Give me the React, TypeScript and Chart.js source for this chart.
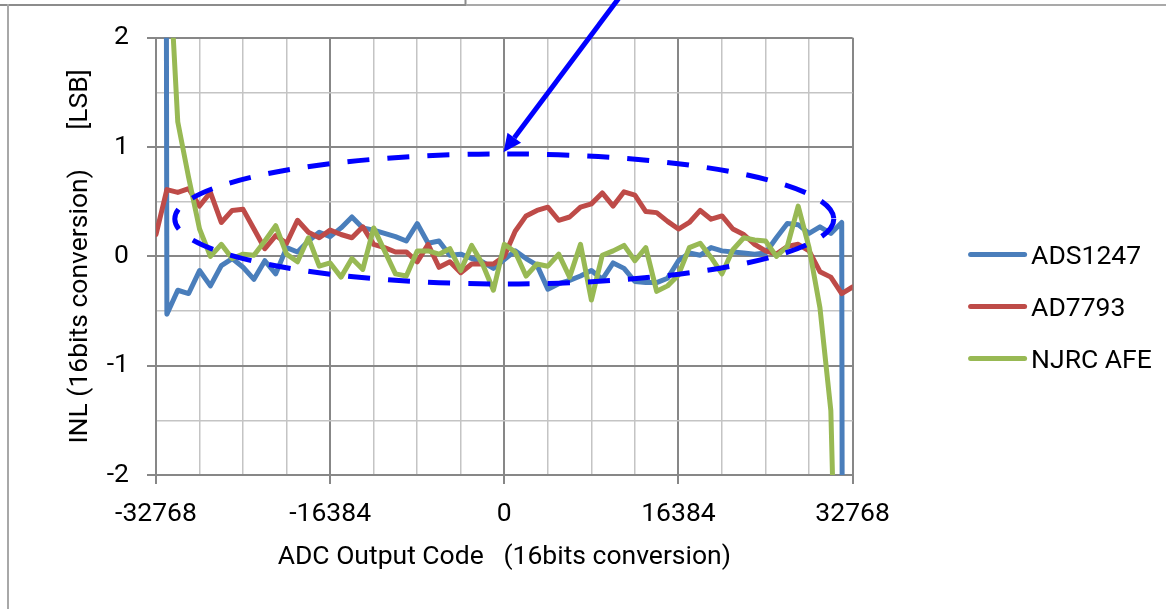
import React, { useEffect, useRef } from 'react';
import { Chart, registerables } from 'chart.js';

Chart.register(...registerables);

// ---- data ----
const CODES = [
  -32768, -31744, -30720, -29696, -28672, -27648, -26624, -25600, -24576, -23552,
  -22528, -21504, -20480, -19456, -18432, -17408, -16384, -15360, -14336, -13312,
  -12288, -11264, -10240, -9216, -8192, -7168, -6144, -5120, -4096, -3072,
  -2048, -1024, 0, 1024, 2048, 3072, 4096, 5120, 6144, 7168,
  8192, 9216, 10240, 11264, 12288, 13312, 14336, 15360, 16384, 17408,
  18432, 19456, 20480, 21504, 22528, 23552, 24576, 25600, 26624, 27648,
  28672, 29696, 30720, 31744, 32768,
];

const ADS1247 = [
  60, -0.53, -0.31, -0.34, -0.13, -0.27, -0.085, -0.02, -0.1, -0.21,
  -0.04, -0.16, 0.08, 0.04, 0.14, 0.22, 0.18, 0.26, 0.36, 0.26,
  0.24, 0.21, 0.18, 0.14, 0.3, 0.12, 0.14, 0.01, 0.02, -0.02,
  -0.05, -0.11, -0.03, 0.05, -0.02, -0.08, -0.3, -0.25, -0.22, -0.18,
  -0.13, -0.21, -0.06, -0.11, -0.23, -0.24, -0.24, -0.2, -0.04, 0.03,
  0.01, 0.08, 0.05, 0.04, 0.03, 0.02, 0.03, 0.17, 0.3, 0.29,
  0.21, 0.27, 0.21, 0.31, -60,
];

const AD7793 = [
  0.2, 0.61, 0.585, 0.62, 0.46, 0.585, 0.31, 0.42, 0.43, 0.25,
  0.07, 0.19, 0.12, 0.33, 0.22, 0.17, 0.24, 0.2, 0.17, 0.27,
  0.11, 0.08, 0.04, 0.04, -0.05, 0.11, -0.1, -0.05, -0.15, -0.07,
  -0.07, -0.07, 0.0, 0.23, 0.37, 0.42, 0.45, 0.33, 0.36, 0.45,
  0.48, 0.58, 0.46, 0.59, 0.56, 0.41, 0.4, 0.32, 0.25, 0.31,
  0.42, 0.34, 0.37, 0.25, 0.2, 0.11, 0.05, 0.02, 0.09, 0.11,
  0.05, -0.14, -0.19, -0.34, -0.28,
];

const NJRC_AFE = [
  8, 3.1, 1.23, 0.72, 0.25, 0.0, 0.11, -0.02, 0.02, 0.01,
  0.14, 0.28, 0.02, -0.05, 0.17, -0.09, -0.06, -0.19, -0.02, -0.12,
  0.26, 0.05, -0.16, -0.18, 0.05, 0.05, 0.02, 0.07, -0.13, 0.1,
  -0.07, -0.31, 0.11, 0.04, -0.18, -0.07, -0.09, 0.02, -0.19, 0.11,
  -0.4, 0.01, 0.05, 0.1, -0.04, 0.08, -0.32, -0.27, -0.17, 0.08,
  0.12, -0.01, -0.16, 0.06, 0.17, 0.15, 0.14, 0.0, 0.09, 0.46,
  0.08, -0.47, -1.41, -5.3, -12,
];

const SERIES_NAMES = ['ADS1247', 'AD7793', 'NJRC AFE'];
const X_TICK_LABELS = [-32768, -16384, 0, 16384, 32768];
const Y_TICK_LABELS = [-2, -1, 0, 1, 2];
const X_TITLE = 'ADC Output Code   (16bits conversion)';
const Y_TITLE = 'INL (16bits conversion)      [LSB]';

// annotation (in data units)
const ELLIPSE_CENTER = { code: 0, inl: 0.342 };
const ELLIPSE_RADII = { code: 31000, inl: 0.595 };
const ARROW_FROM = { code: 11300, inl: 2.43 };
const ARROW_TO = { code: -75, inl: 0.953 };

// ---- styles ----
const FONT_FAMILY = "Roboto, 'DejaVu Sans', Arial, sans-serif";
const FONT_SIZE = 26.5;
const COLORS = ['#4A7EBB', '#BE4B48', '#98B954'];
const MAJOR_GRID = '#878787';
const MINOR_GRID = '#c4c4c4';
const ANNOT_COLOR = '#0000FF';
const LINE_W = 5;

const isMajorX = (v: number) => X_TICK_LABELS.includes(v);
const isMajorY = (v: number) => Y_TICK_LABELS.includes(v);

const framePlugin = {
  id: 'pageFrame',
  beforeDraw(chart: any) {
    const { ctx, width, height } = chart;
    ctx.save();
    ctx.lineWidth = 2;
    ctx.strokeStyle = '#8c8c8c';
    ctx.beginPath();
    ctx.moveTo(0, 5);
    ctx.lineTo(466, 5);
    ctx.moveTo(465.5, 0);
    ctx.lineTo(465.5, 5);
    ctx.stroke();
    ctx.strokeStyle = '#a9a9a9';
    ctx.beginPath();
    ctx.moveTo(466, 5);
    ctx.lineTo(width, 5);
    ctx.stroke();
    ctx.strokeStyle = '#a8a8a8';
    ctx.beginPath();
    ctx.moveTo(8, 4);
    ctx.lineTo(8, height);
    ctx.stroke();
    ctx.restore();
  },
};

const annotationPlugin = {
  id: 'ellipseArrow',
  afterDatasetsDraw(chart: any) {
    const { ctx, scales } = chart;
    const x = scales.x;
    const y = scales.y;
    const cx = x.getPixelForValue(ELLIPSE_CENTER.code);
    const cy = y.getPixelForValue(ELLIPSE_CENTER.inl);
    const rx = Math.abs(x.getPixelForValue(ELLIPSE_CENTER.code + ELLIPSE_RADII.code) - cx);
    const ry = Math.abs(y.getPixelForValue(ELLIPSE_CENTER.inl + ELLIPSE_RADII.inl) - cy);
    ctx.save();
    ctx.strokeStyle = ANNOT_COLOR;
    ctx.fillStyle = ANNOT_COLOR;
    ctx.lineWidth = LINE_W;
    ctx.setLineDash([22, 18]);
    ctx.beginPath();
    ctx.ellipse(cx, cy, rx, ry, 0, 0, Math.PI * 2);
    ctx.stroke();
    ctx.setLineDash([]);

    const x1 = x.getPixelForValue(ARROW_FROM.code);
    const y1 = y.getPixelForValue(ARROW_FROM.inl);
    const x2 = x.getPixelForValue(ARROW_TO.code);
    const y2 = y.getPixelForValue(ARROW_TO.inl);
    const ang = Math.atan2(y2 - y1, x2 - x1);
    const headLen = 18;
    const headW = 8.5;
    const bx = x2 - headLen * Math.cos(ang);
    const by = y2 - headLen * Math.sin(ang);
    ctx.lineWidth = LINE_W;
    ctx.beginPath();
    ctx.moveTo(x1, y1);
    ctx.lineTo(bx, by);
    ctx.stroke();
    ctx.beginPath();
    ctx.moveTo(x2, y2);
    ctx.lineTo(bx + headW * Math.sin(ang), by - headW * Math.cos(ang));
    ctx.lineTo(bx - headW * Math.sin(ang), by + headW * Math.cos(ang));
    ctx.closePath();
    ctx.fill();
    ctx.restore();
  },
};

const legendPlugin = {
  id: 'sideLegend',
  afterDraw(chart: any) {
    const { ctx, height, chartArea } = chart;
    const lineStart = chartArea.right + 118;
    const lineEnd = lineStart + 54;
    const textX = lineEnd + 6.5;
    ctx.save();
    ctx.font = `${FONT_SIZE}px ${FONT_FAMILY}`;
    ctx.textAlign = 'left';
    ctx.textBaseline = 'alphabetic';
    chart.data.datasets.forEach((ds: any, i: number) => {
      const yc = height / 2 + (i - 1) * 52 + 2;
      ctx.strokeStyle = ds.borderColor;
      ctx.lineWidth = LINE_W;
      ctx.lineCap = 'round';
      ctx.beginPath();
      ctx.moveTo(lineStart, yc);
      ctx.lineTo(lineEnd, yc);
      ctx.stroke();
      ctx.fillStyle = '#000';
      ctx.fillText(ds.label, textX, yc + 9.2);
    });
    ctx.restore();
  },
};

export default function App() {
  const ref = useRef<HTMLCanvasElement>(null);

  useEffect(() => {
    if (!ref.current) return;
    const font = { family: FONT_FAMILY, size: FONT_SIZE };
    const seriesValues = [ADS1247, AD7793, NJRC_AFE];
    const datasets = seriesValues.map((vals, i) => ({
      label: SERIES_NAMES[i],
      data: CODES.map((c, k) => ({ x: c, y: vals[k] })),
      borderColor: COLORS[i],
      backgroundColor: COLORS[i],
      borderWidth: LINE_W,
      pointRadius: 0,
      pointHoverRadius: 0,
      tension: 0,
      borderJoinStyle: 'round' as const,
      borderCapStyle: 'round' as const,
      order: 3 - i,
    }));

    const chart = new Chart(ref.current, {
      type: 'line',
      data: { datasets },
      plugins: [framePlugin, annotationPlugin, legendPlugin],
      options: {
        responsive: false,
        animation: false,
        devicePixelRatio: 1,
        events: [],
        layout: { padding: { left: 0, top: 37.7, right: 313.4, bottom: 0 } },
        plugins: {
          legend: { display: false },
          tooltip: { enabled: false },
          title: { display: false },
        },
        scales: {
          x: {
            type: 'linear',
            min: -32768,
            max: 32768,
            afterFit: (s: any) => {
              s.height = 134;
            },
            ticks: {
              stepSize: 4096,
              autoSkip: false,
              maxRotation: 0,
              minRotation: 0,
              padding: 14,
              color: '#000',
              font,
              callback: (v: any) => (isMajorX(Number(v)) ? String(v) : ''),
            },
            grid: {
              color: (c: any) => (c.tick && isMajorX(c.tick.value) ? MAJOR_GRID : MINOR_GRID),
              lineWidth: (c: any) => (c.tick && isMajorX(c.tick.value) ? 2 : 1.5),
              tickLength: 9,
              tickColor: (c: any) => (c.tick && isMajorX(c.tick.value) ? MAJOR_GRID : 'rgba(0,0,0,0)'),
              tickWidth: 2,
            },
            border: { color: MAJOR_GRID, width: 2 },
            title: {
              display: true,
              text: X_TITLE,
              color: '#000',
              font,
              padding: { top: 0, bottom: 35.3 },
            },
          },
          y: {
            type: 'linear',
            min: -2,
            max: 2,
            afterFit: (s: any) => {
              s.width = 156;
            },
            ticks: {
              stepSize: 0.5,
              autoSkip: false,
              padding: 18,
              color: '#000',
              font,
              callback: (v: any) => (isMajorY(Number(v)) ? String(v) : ''),
            },
            grid: {
              color: (c: any) => (c.tick && isMajorY(c.tick.value) ? MAJOR_GRID : MINOR_GRID),
              lineWidth: (c: any) => (c.tick && isMajorY(c.tick.value) ? 2 : 1.5),
              tickLength: 9,
              tickColor: (c: any) => (c.tick && isMajorY(c.tick.value) ? MAJOR_GRID : 'rgba(0,0,0,0)'),
              tickWidth: 2,
            },
            border: { color: MAJOR_GRID, width: 2 },
            title: {
              display: true,
              text: Y_TITLE,
              color: '#000',
              font,
              padding: { top: 64.9, bottom: 0 },
            },
          },
        },
      },
    } as any);

    return () => chart.destroy();
  }, []);

  return (
    <div style={{ position: 'absolute', left: 0, top: 0, width: 1166, height: 609, background: '#fff' }}>
      <canvas ref={ref} width={1166} height={609} style={{ display: 'block' }} />
    </div>
  );
}
